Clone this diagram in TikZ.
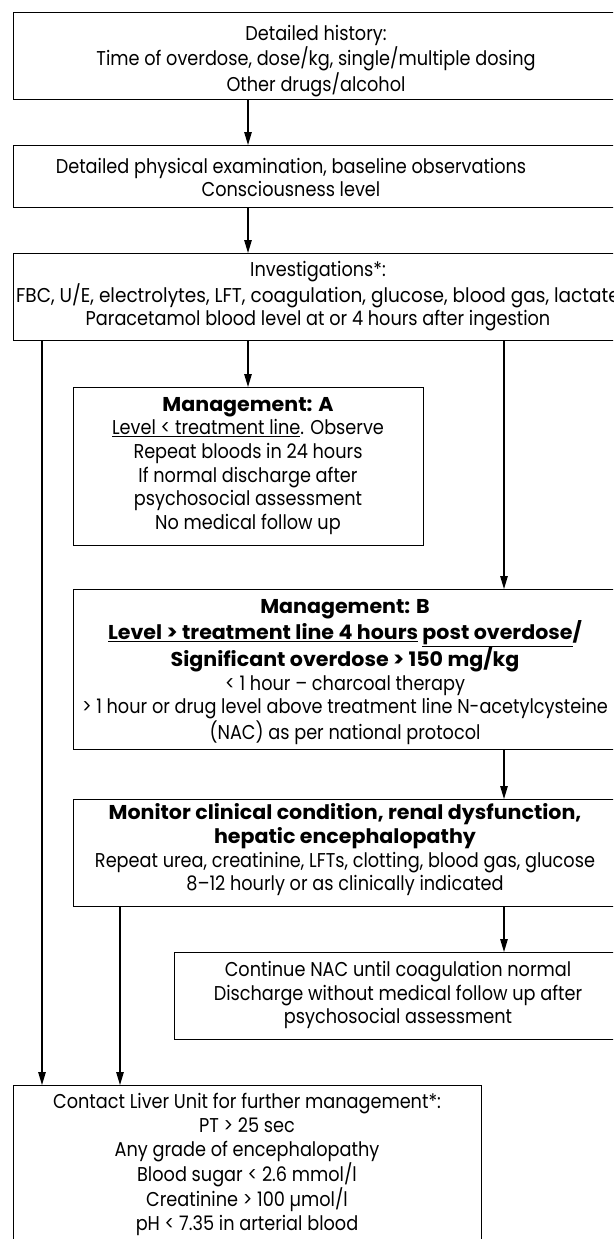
\documentclass[tikz,border=0pt]{standalone}
\usepackage{fontspec}
\setmainfont{Poppins}[UprightFeatures={FakeStretch=0.885},BoldFeatures={FakeStretch=1.03}]
\usetikzlibrary{arrows.meta}
\newcommand\fsz{\fontsize{20}{23.7}\selectfont}
\begin{document}
\begin{tikzpicture}[x=1pt,y=-1pt,
  box/.style={draw,line width=1.3pt,inner sep=0pt,anchor=north west},
  txt/.style={align=center,inner sep=0pt,font=\fsz},
  arr/.style={line width=1.2pt,-{Triangle[length=13pt,width=7.5pt]}}]
\useasboundingbox (0,0) rectangle (613,1239);
\clip (0,0) rectangle (613,1239);
\fill[white] (0,0) rectangle (613,1239);
% boxes
\node[box,minimum width=606pt,minimum height=87pt] (b1) at (13,12) {};
\node[box,minimum width=606pt,minimum height=62pt] (b2) at (13,145) {};
\node[box,minimum width=606pt,minimum height=87pt] (b3) at (13,253) {};
\node[box,minimum width=350pt,minimum height=158pt] (bA) at (72.7,387) {};
\node[box,minimum width=546pt,minimum height=160pt] (bB) at (72.7,589) {};
\node[box,minimum width=546pt,minimum height=107pt] (bM) at (72.7,799) {};
\node[box,minimum width=451pt,minimum height=87pt] (bC) at (174,952) {};
\node[box,minimum width=468pt,minimum height=175pt] (bL) at (13,1085) {};
% texts
\node[txt] (t1) at (316,61) {Detailed history:\\Time of overdose, dose/kg, single/multiple dosing\\Other drugs/alcohol};
\node[txt] (t2) at (291,177.5) {Detailed physical examination, baseline observations\\Consciousness level};
\node[txt] (t3) at (318,296.5) {Investigations*:\\\scalebox{1.045}[1]{FBC, U/E, electrolytes, LFT, coagulation, glucose, blood gas, lactate}\hspace*{24pt}\\Paracetamol blood level at or 4 hours after ingestion};
\node[txt] (tA) at (248,466) {\textbf{Management: A}\\\underline{Level < treatment line}. Observe\\Repeat bloods in 24 hours\\If normal discharge after\\psychosocial assessment\\No medical follow up};
\node[txt] (tB) at (345,672) {\textbf{Management: B}\\\textbf{\underline{Level > treatment line 4 hours} \underline{post overdose}/}\\\textbf{Significant overdose > 150 mg/kg}\\< 1 hour -- charcoal therapy\\> 1 hour or drug level above treatment line N-acetylcysteine\\(NAC) as per national protocol};
\node[txt] (tM) at (345,850) {\textbf{Monitor clinical condition, renal dysfunction,}\\\textbf{hepatic encephalopathy}\\Repeat urea, creatinine, LFTs, clotting, blood gas, glucose\\8--12 hourly or as clinically indicated};
\node[txt] (tC) at (398,995) {Continue NAC until coagulation normal\\Discharge without medical follow up after\\psychosocial assessment};
\node[txt] (tL) at (247,1164.5) {Contact Liver Unit for further management*:\\PT > 25 sec\\Any grade of encephalopathy\\Blood sugar < 2.6 mmol/l\\Creatinine > 100 µmol/l\\pH < 7.35 in arterial blood};
% connector columns
\coordinate (ax) at (248,0);
\coordinate (lx) at (42,0);
\coordinate (mx) at (120,0);
\coordinate (rx) at (504,0);
\draw[arr] (b1.south -| ax) -- (b2.north -| ax);
\draw[arr] (b2.south -| ax) -- (b3.north -| ax);
\draw[arr] (b3.south -| ax) -- (bA.north -| ax);
\draw[arr] (b3.south -| rx) -- (bB.north -| rx);
\draw[arr] (bB.south -| rx) -- (bM.north -| rx);
\draw[arr] (bM.south -| rx) -- (bC.north -| rx);
\draw[arr] (b3.south -| lx) -- (bL.north -| lx);
\draw[arr] (bM.south -| mx) -- (bL.north -| mx);
\end{tikzpicture}
\end{document}
